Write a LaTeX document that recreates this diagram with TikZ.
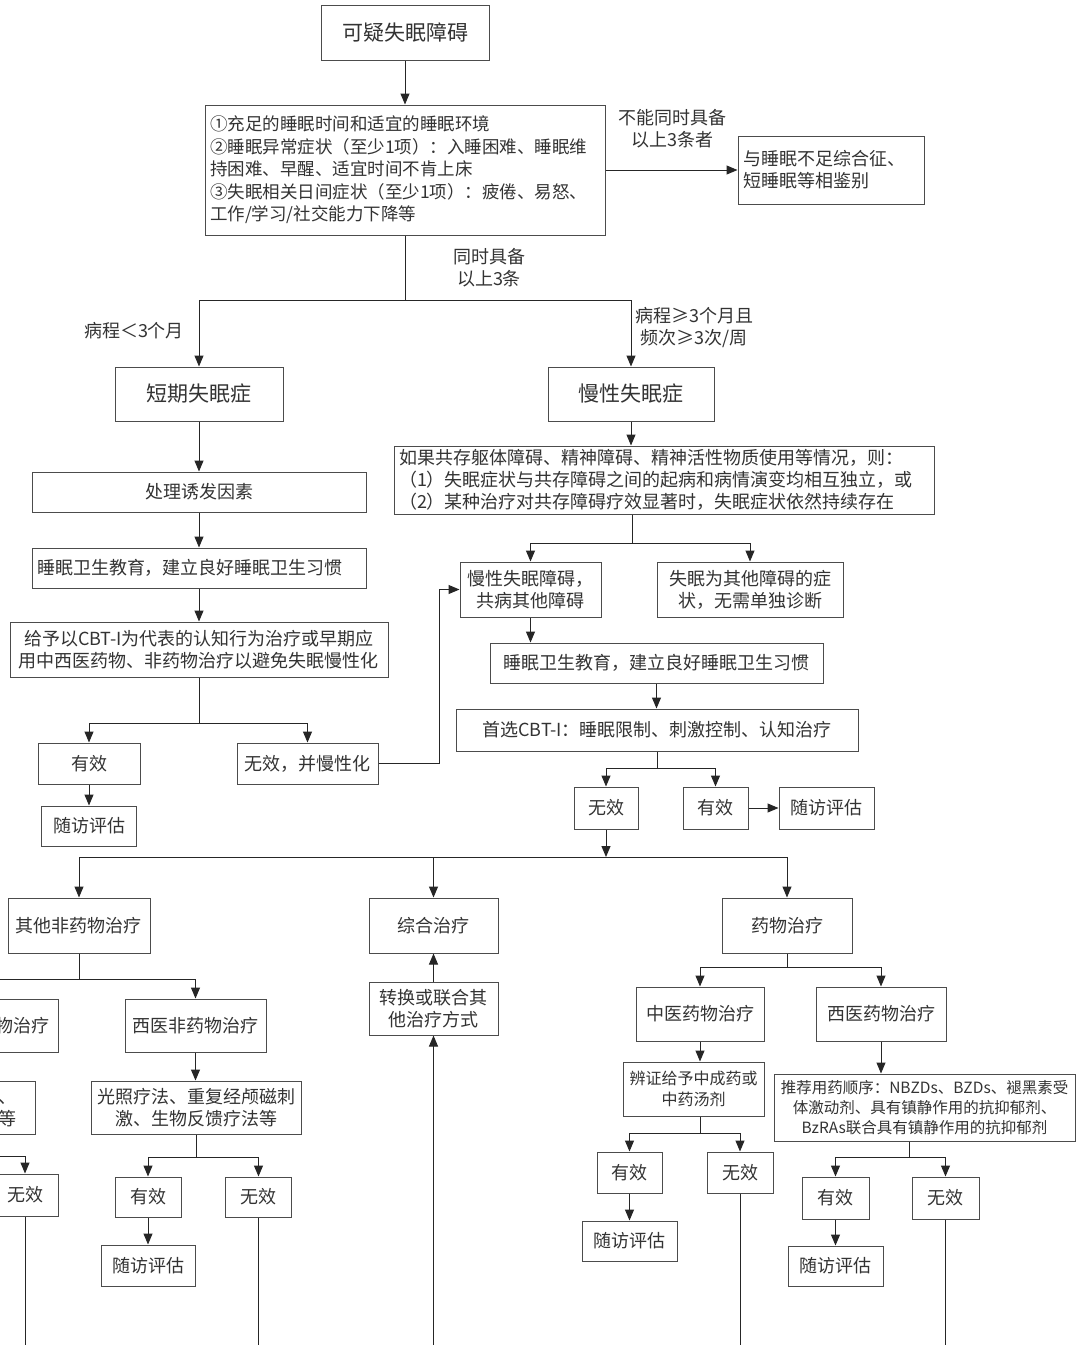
\documentclass[tikz,border=0pt]{standalone}
\usepackage{fontspec}
\setmainfont{Noto Sans CJK SC}
\usepackage{xcolor}
\usepackage{tikz}
\usetikzlibrary{arrows.meta,positioning}

\tikzset{
    box/.style={draw=black!70, line width=1pt, text=black!80, align=center,
        inner xsep=5pt, inner ysep=2pt, font=\fontsize{18}{22}\selectfont},
    head/.style={font=\fontsize{21}{25}\selectfont},
    small/.style={minimum width=66pt, minimum height=41pt},
    follow/.style={minimum width=95pt, minimum height=40pt},
    lbl/.style={text=black!80, align=center, inner sep=0pt, font=\fontsize{18}{22}\selectfont},
    ln/.style={draw=black!85, line width=1pt},
    arr/.style={ln, -{Triangle[length=11pt,width=9pt]}}
}

\begin{document}
\begin{tikzpicture}[x=1pt, y=-1pt]
                \useasboundingbox (0,0) rectangle (1079,1345);
                \fill[white] (0,0) rectangle (1079,1345);
                \clip (0,0) rectangle (1079,1345);
                \coordinate (bottom) at (0,1350);

                % top part
                \node[box, head, minimum width=168pt, minimum height=55pt] (suspect) at (405,33) {可疑失眠障碍};
                \node[box, text width=390pt, align=left, minimum height=130pt,
                    font=\fontsize{17.5}{22.5}\selectfont] (crit) at (405,170)
                    {①充足的睡眠时间和适宜的睡眠环境\\②睡眠异常症状（至少1项）：入睡困难、睡眠维\\持困难、早醒、适宜时间不肯上床\\③失眠相关日间症状（至少1项）：疲倦、易怒、\\工作/学习/社交能力下降等};
                \node[box, text width=176pt, align=left, minimum height=68pt] (diff) at (831,170) {与睡眠不足综合征、\\短睡眠等相鉴别};
                \node[lbl] (lbnot) at (672,129) {不能同时具备\\以上3条者};
                \node[lbl] (lbboth) at (489,268) {同时具备\\以上3条};
                \coordinate (split) at (405,300);

                \node[box, head, minimum width=168pt, minimum height=54pt] (short) at (199,394) {短期失眠症};
                \node[box, head, minimum width=166pt, minimum height=54pt] (chronic) at (631,394) {慢性失眠症};
                \node[lbl] (lbshort) at (134,331) {病程＜3个月};
                \node[lbl] (lbchronic) at (694,328) {病程≥3个月且\\频次≥3次/周};

                \draw[arr] (suspect) -- (crit);
                \draw[arr] (crit) -- (diff);
                \draw[ln] (crit) -- (split);
                \draw[arr] (split) -| (short);
                \draw[arr] (split) -| (chronic);

                % short-term insomnia
                \node[box, minimum width=334pt, minimum height=40pt] (trigger) at (199,492) {处理诱发因素};
                \node[box, text width=324pt, align=left, minimum height=40pt] (hygA) at (199,568) {睡眠卫生教育，建立良好睡眠卫生习惯};
                \node[box, minimum width=378pt, minimum height=55pt] (early) at (199,649.5) {给予以CBT-I为代表的认知行为治疗或早期应\\用中西医药物、非药物治疗以避免失眠慢性化};
                \coordinate (splitA) at (199,723);
                \node[box, minimum width=102pt, minimum height=41pt] (effA) at (89,763.5) {有效};
                \node[box, follow] (followA) at (89,826) {随访评估};
                \node[box, minimum width=141pt, minimum height=41pt] (chronify) at (307.5,763.5) {无效，并慢性化};

                \draw[arr] (short) -- (trigger);
                \draw[arr] (trigger) -- (hygA);
                \draw[arr] (hygA) -- (early);
                \draw[ln] (early) -- (splitA);
                \draw[arr] (splitA) -| (effA);
                \draw[arr] (splitA) -| (chronify);
                \draw[arr] (effA) -- (followA);

                % chronic insomnia
                \node[box, text width=530pt, align=left, minimum height=68pt] (cond) at (664,480)
                    {如果共存躯体障碍、精神障碍、精神活性物质使用等情况，则：\\（1）失眠症状与共存障碍之间的起病和病情演变均相互独立，或\\（2）某种治疗对共存障碍疗效显著时，失眠症状依然持续存在};
                \coordinate (splitB) at (632,543);
                \node[box, minimum width=141pt, minimum height=55pt] (comorb) at (530.5,589.5) {慢性失眠障碍，\\共病其他障碍};
                \node[box, minimum width=186pt, minimum height=55pt] (symptom) at (750,589.5) {失眠为其他障碍的症\\状，无需单独诊断};
                \node[box, minimum width=333pt, minimum height=40pt] (hygB) at (656.5,663) {睡眠卫生教育，建立良好睡眠卫生习惯};
                \node[box, minimum width=402pt, minimum height=42pt] (cbt) at (657,730) {首选CBT-I：睡眠限制、刺激控制、认知治疗};
                \coordinate (splitC) at (657,768);
                \node[box, small, minimum width=64pt, minimum height=42pt] (noB) at (606,808) {无效};
                \node[box, small, minimum width=65pt, minimum height=42pt] (yesB) at (715.5,808) {有效};
                \node[box, follow, minimum height=42pt] (followB) at (826.5,808) {随访评估};
                \coordinate (loopx) at (439,0);

                \draw[arr] (chronic) -- (chronic |- cond.north);
                \draw[ln] (splitB |- cond.south) -- (splitB);
                \draw[arr] (splitB) -| (comorb);
                \draw[arr] (splitB) -| (symptom);
                \draw[arr] (comorb) -- (comorb |- hygB.north);
                \draw[arr] (hygB.south) -- (hygB.south |- cbt.north);
                \draw[ln] (cbt) -- (splitC);
                \draw[arr] (splitC) -| (noB);
                \draw[arr] (splitC) -| (yesB);
                \draw[arr] (yesB) -- (followB);
                \draw[arr] (chronify.east) -| (loopx |- comorb.west) -- (comorb.west);

                % treatments
                \coordinate (splitD) at (606,857);
                \node[box, minimum width=142pt, minimum height=55pt] (other) at (79,925.5) {其他非药物治疗};
                \node[box, minimum width=129pt, minimum height=55pt] (combo) at (433.5,925.5) {综合治疗};
                \node[box, minimum width=130pt, minimum height=55pt] (drug) at (787,925.5) {药物治疗};
                \node[box, minimum width=129pt, minimum height=53pt] (switch) at (433.5,1008.5) {转换或联合其\\他治疗方式};

                \draw[arr] (noB) -- (splitD);
                \draw[ln] (other |- splitD) -- (drug |- splitD);
                \draw[arr] (other |- splitD) -- (other);
                \draw[arr] (combo |- splitD) -- (combo);
                \draw[arr] (drug |- splitD) -- (drug);
                \draw[arr] (switch) -- (combo);
                \draw[arr] (switch |- bottom) -- (switch);

                % non-drug branch
                \coordinate (splitE) at (79,979);
                \node[box, text width=158pt, align=right, inner xsep=8pt, minimum height=53pt] (tcmnd) at (-29,1025.5) {物治疗};
                \node[box, minimum width=141pt, minimum height=53pt] (wnd) at (195.5,1025.5) {西医非药物治疗};
                \node[box, text width=92pt, align=right, inner xsep=18pt, minimum height=53pt] (tcmsub) at (-29,1107.5) {刺、\\等};
                \node[box, minimum width=210pt, minimum height=53pt] (physio) at (196,1107.5) {光照疗法、重复经颅磁刺\\激、生物反馈疗法等};
                \coordinate (splitF) at (196,1157);
                \coordinate (splitG) at (-29,1156);
                \node[box, small, minimum height=40pt] (yesC) at (148,1197) {有效};
                \node[box, small, minimum height=40pt] (noC) at (258.5,1197) {无效};
                \node[box, follow, minimum width=94pt, minimum height=41pt] (followC) at (148,1265.5) {随访评估};
                \node[box, small, minimum height=42pt] (noD) at (25,1195) {无效};

                \draw[ln] (other) -- (splitE);
                \draw[arr] (splitE) -| (tcmnd);
                \draw[arr] (splitE) -| (wnd);
                \draw[arr] (tcmnd) -- (tcmsub);
                \draw[arr] (wnd.south) -- (wnd.south |- physio.north);
                \draw[ln] (physio) -- (splitF);
                \draw[arr] (splitF) -| (yesC);
                \draw[arr] (splitF) -| (noC);
                \draw[arr] (yesC) -- (followC);
                \draw[ln] (noC) -- (noC |- bottom);
                \draw[ln] (tcmsub) -- (splitG);
                \draw[arr] (splitG) -| (noD);
                \draw[ln] (noD) -- (noD |- bottom);

                % drug branch
                \coordinate (splitH) at (787,967);
                \node[box, minimum width=128pt, minimum height=54pt] (tcmd) at (700,1014) {中医药物治疗};
                \node[box, minimum width=130pt, minimum height=54pt] (wmd) at (881,1014) {西医药物治疗};
                \node[box, minimum width=141pt, minimum height=54pt, font=\fontsize{16}{21}\selectfont] (herb) at (693.5,1089) {辨证给予中成药或\\中药汤剂};
                \node[box, minimum width=301pt, minimum height=67pt, font=\fontsize{15.5}{20}\selectfont] (order) at (924.5,1107.5)
                    {推荐用药顺序：NBZDs、BZDs、褪黑素受\\体激动剂、具有镇静作用的抗抑郁剂、\\BzRAs联合具有镇静作用的抗抑郁剂};
                \coordinate (splitI) at (700,1133);
                \node[box, small, minimum width=65pt] (yesE) at (629.5,1172.5) {有效};
                \node[box, small] (noE) at (740,1172.5) {无效};
                \node[box, follow] (followE) at (629.5,1241) {随访评估};
                \coordinate (splitJ) at (909,1157);
                \node[box, small, minimum width=67pt, minimum height=42pt] (yesF) at (835.5,1198) {有效};
                \node[box, small, minimum width=67pt, minimum height=42pt] (noF) at (945.5,1198) {无效};
                \node[box, follow] (followF) at (835.5,1266) {随访评估};

                \draw[ln] (drug) -- (splitH);
                \draw[arr] (splitH) -| (tcmd);
                \draw[arr] (splitH) -| (wmd);
                \draw[arr] (tcmd) -- (tcmd |- herb.north);
                \draw[arr] (wmd) -- (wmd |- order.north);
                \draw[ln] (splitI |- herb.south) -- (splitI);
                \draw[arr] (splitI) -| (yesE);
                \draw[arr] (splitI) -| (noE);
                \draw[arr] (yesE) -- (followE);
                \draw[ln] (noE) -- (noE |- bottom);
                \draw[ln] (splitJ |- order.south) -- (splitJ);
                \draw[arr] (splitJ) -| (yesF);
                \draw[arr] (splitJ) -| (noF);
                \draw[arr] (yesF) -- (followF);
                \draw[ln] (noF) -- (noF |- bottom);

             \end{tikzpicture}
\end{document}
